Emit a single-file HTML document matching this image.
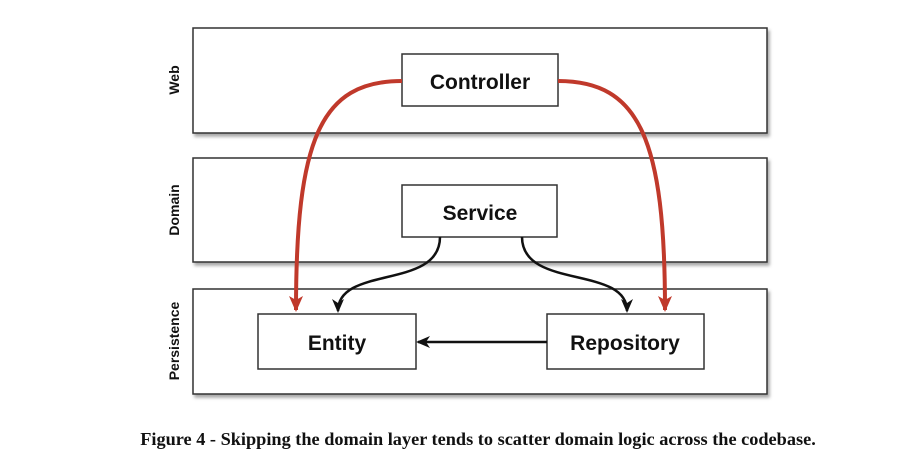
<!DOCTYPE html>
<html><head><style>
body{margin:0;background:#fff;width:917px;height:469px;overflow:hidden}
svg{position:absolute;left:0;top:0}
</style></head><body>
<svg width="917" height="469" viewBox="0 0 917 469">
<defs>
<filter id="sh" x="-5%" y="-5%" width="110%" height="120%"><feDropShadow dx="2" dy="3" stdDeviation="1.5" flood-color="#000" flood-opacity="0.35"/></filter>
<marker id="ab" markerWidth="14" markerHeight="12" refX="12" refY="6" orient="auto" markerUnits="userSpaceOnUse" viewBox="0 0 14 12"><path d="M0,0 L14,6 L0,12 L4,6 Z" fill="#111"/></marker>
<marker id="ar" markerWidth="16" markerHeight="14" refX="14" refY="7" orient="auto" markerUnits="userSpaceOnUse" viewBox="0 0 16 14"><path d="M0,0 L16,7 L0,14 L4,7 Z" fill="#c0392b"/></marker>
</defs>
<g fill="#fff" stroke="#333" stroke-width="1.5" filter="url(#sh)">
<rect x="193" y="28" width="574" height="105"/>
<rect x="193" y="158" width="574" height="104"/>
<rect x="193" y="289" width="574" height="105"/>
<rect x="402" y="54" width="156" height="52"/>
<rect x="402" y="185" width="155" height="52"/>
<rect x="258" y="314" width="158" height="55"/>
<rect x="547" y="314" width="157" height="55"/>
</g>
<g font-family="'Liberation Sans',sans-serif" font-weight="bold" fill="#111" text-anchor="middle">
<text x="480" y="89" font-size="21">Controller</text>
<text x="480" y="220" font-size="21">Service</text>
<text x="337" y="350" font-size="21">Entity</text>
<text x="625" y="350" font-size="21">Repository</text>
<g font-size="14">
<text transform="translate(179,80) rotate(-90)">Web</text>
<text transform="translate(179,210) rotate(-90)">Domain</text>
<text transform="translate(179,341) rotate(-90)">Persistence</text>
</g>
</g>
<g fill="none">
<path d="M402,81 C320,81 296,140 296,310" stroke="#c0392b" stroke-width="4" marker-end="url(#ar)"/>
<path d="M558,81 C640,81 665,140 665,310" stroke="#c0392b" stroke-width="4" marker-end="url(#ar)"/>
<path d="M440,237 C440,290 338,265 338,311" stroke="#111" stroke-width="2.5" marker-end="url(#ab)"/>
<path d="M522,237 C522,290 627,265 627,311" stroke="#111" stroke-width="2.5" marker-end="url(#ab)"/>
<path d="M547,342 L418,342" stroke="#111" stroke-width="2.5" marker-end="url(#ab)"/>
</g>
<text x="478" y="445" text-anchor="middle" font-family="'Liberation Serif',serif" font-size="18.3" font-weight="bold" fill="#111">Figure 4 - Skipping the domain layer tends to scatter domain logic across the codebase.</text>
</svg>
</body></html>
